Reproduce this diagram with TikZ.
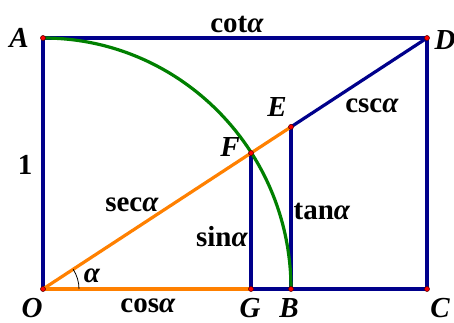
\documentclass[tikz,border=0pt]{standalone}
\usepackage{fontspec}
\setmainfont{Liberation Serif}
\begin{document}
\begin{tikzpicture}[x=1pt,y=1pt,
  blueline/.style={draw={rgb,255:red,0;green,0;blue,139}, line width=3.2pt},
  orangeline/.style={draw={rgb,255:red,255;green,128;blue,0}, line width=3.2pt},
  greenline/.style={draw={rgb,255:red,0;green,128;blue,0}, line width=3.2pt},
  pt/.style={circle, fill=red, draw={rgb,255:red,90;green,0;blue,0}, line width=0.6pt, inner sep=0pt, minimum size=5pt},
  lab/.style={anchor=base, inner sep=0pt, font=\fontsize{29}{31}\selectfont\bfseries}]
\useasboundingbox (0,0) rectangle (454,323);
\coordinate (O) at (43,34);
\coordinate (A) at (43,285);
\coordinate (D) at (427,285);
\coordinate (C) at (427,34);
\coordinate (B) at (291,34);
\coordinate (G) at (251,34);
\coordinate (E) at (291,196.1);
\coordinate (F) at (251,169.96);
% frame and lines
\draw[blueline] (O) -- (A) -- (D) -- (C) -- (O);
\draw[blueline] (E) -- (D);
\draw[blueline] (G) -- (F);
\draw[blueline] (B) -- (E);
\draw[greenline] (A) arc[start angle=90, end angle=0, x radius=248, y radius=251];
\draw[orangeline] (O) -- (G);
\draw[orangeline] (O) -- (E);
\draw[line width=0.8pt] ([shift={(36,0)}]O) arc[start angle=0, end angle=33.17, radius=36];
% points
\foreach \p in {O,A,D,C,B,G,E,F} \node[pt] at (\p) {};
% labels
\node[lab] (lA) at (19,275) {\itshape A};
\node[lab] (lD) at (445,273) {\itshape D};
\node[lab] (lE) at (277,206) {\itshape E};
\node[lab] (lF) at (230,166) {\itshape F};
\node[lab] (lO) at (32,5.5) {\itshape O};
\node[lab] (lG) at (250,5.5) {\itshape G};
\node[lab] (lB) at (289,5.5) {\itshape B};
\node[lab] (lC) at (440,5.5) {\itshape C};
\node[lab] (l1) at (25,148) {1};
\node[lab] (lcot) at (237,290) {cot\textit{α}};
\node[lab] (lcsc) at (372,210) {csc\textit{α}};
\node[lab] (lsec) at (132,111) {sec\textit{α}};
\node[lab] (lsin) at (222,76) {sin\textit{α}};
\node[lab] (ltan) at (322,103) {tan\textit{α}};
\node[lab] (lcos) at (148,10) {cos\textit{α}};
\node[lab] (lal) at (92,40) {\itshape α};
\end{tikzpicture}
\end{document}
